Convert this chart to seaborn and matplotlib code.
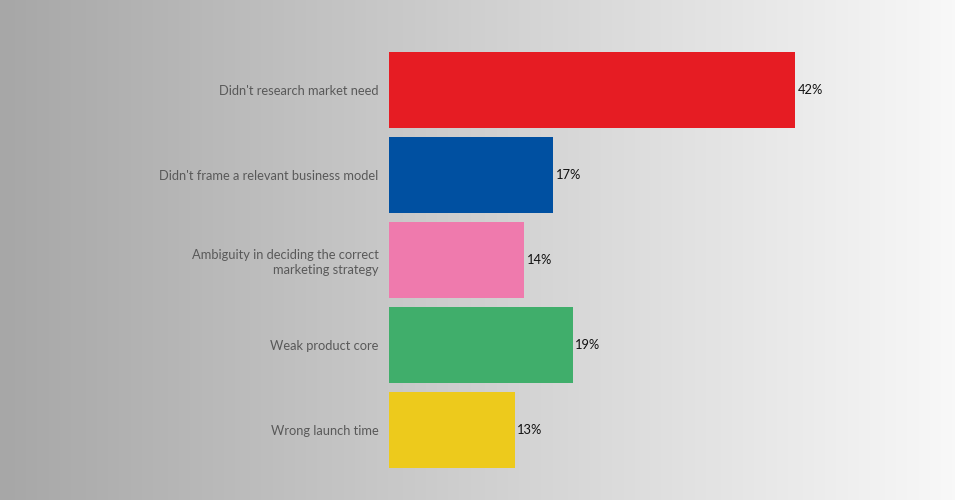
import numpy as np
import seaborn as sns
import matplotlib.pyplot as plt

# reasons and their shares (%)
reasons = [
    "Didn't research market need",
    "Didn't frame a relevant business model",
    "Ambiguity in deciding the correct\nmarketing strategy",
    "Weak product core",
    "Wrong launch time",
]
shares = [42, 17, 14, 19, 13]
colours = ["#e61c23", "#0050a1", "#ef7aad", "#40ae6b", "#edca1c"]

sns.set_style("white")
plt.rcParams['font.family'] = ['Lato', 'DejaVu Sans']

fig = plt.figure(figsize=(9.55, 5), dpi=100)

# gradient backdrop, grey on the left fading to near white
bg = fig.add_axes([0, 0, 1, 1])
grad = np.linspace(0, 1, 256).reshape(1, -1)
bg.imshow(grad, aspect='auto', cmap=plt.matplotlib.colors.LinearSegmentedColormap.from_list(
    'bg', ["#a7a7a7", "#f8f8f8"]), extent=[0, 1, 0, 1])
bg.axis('off')

ax = fig.add_axes([389 / 955, 0.055, 566 / 955, 0.85])
ax.set_facecolor('none')
sns.barplot(x=shares, y=reasons, hue=reasons, palette=colours, width=0.894,
            legend=False, saturation=1, linewidth=0, ax=ax)
ax.set_xlim(0, 566 / 9.667)

for i, v in enumerate(shares):
    ax.text(v + 0.25, i, f"{v}%", va='center', ha='left', fontsize=9.3, color='#111111')

ax.tick_params(axis='y', length=0, pad=7.5, labelsize=9.3, labelcolor='#595959')
ax.set_xticks([])
ax.set_xlabel('')
ax.set_ylabel('')
for lab in ax.get_yticklabels():
    lab.set_linespacing(1.3)
sns.despine(ax=ax, left=True, bottom=True)

fig.savefig('out.png', dpi=100)
